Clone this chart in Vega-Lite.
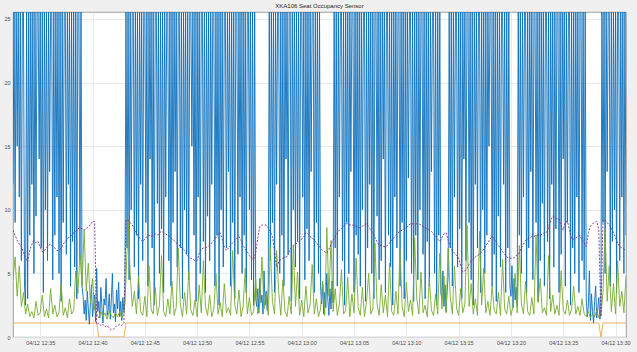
{
"$schema": "https://vega.github.io/schema/vega-lite/v6.json",
"width": 613, "height": 325,
"autosize": {"type": "none"},
"padding": {"left": 13, "top": 12, "right": 11, "bottom": 15},
"background": "#f0f0f0",
"title": {"text": "XKA106 Seat Occupancy Sensor", "font": "Liberation Sans", "fontSize": 6, "fontWeight": "normal", "color": "#262626", "offset": 3, "anchor": "middle"},
"datasets": {
"main": [
{"s":1944,"g":4.5,"p":8.4},{"s":1956,"g":6.3,"p":8.0},{"s":1968,"g":3.2,"p":7.6},{"s":1980,"g":5.6,"p":7.3},{"s":1992,"g":2.4,"p":7.1},
{"s":2004,"g":3.5,"p":6.7},{"s":2016,"g":1.8,"p":6.2},{"s":2028,"g":2.6,"p":5.9},{"s":2040,"g":1.6,"p":6.8},{"s":2052,"g":2.0,"p":7.3},
{"s":2064,"g":1.5,"p":7.6},{"s":2076,"g":2.8,"p":7.4},{"s":2088,"g":1.7,"p":7.5},{"s":2100,"g":1.9,"p":7.1},{"s":2112,"g":3.3,"p":6.7},
{"s":2124,"g":1.6,"p":6.8},{"s":2136,"g":2.2,"p":7.0},{"s":2148,"g":1.5,"p":7.2},{"s":2160,"g":3.8,"p":7.3},{"s":2172,"g":1.8,"p":7.1},
{"s":2184,"g":2.5,"p":7.0},{"s":2196,"g":1.6,"p":6.8},{"s":2208,"g":1.9,"p":6.8},{"s":2220,"g":4.2,"p":7.0},{"s":2232,"g":1.7,"p":7.3},
{"s":2244,"g":2.3,"p":7.5},{"s":2256,"g":1.5,"p":7.7},{"s":2268,"g":3.0,"p":7.9},{"s":2280,"g":1.8,"p":8.0},{"s":2292,"g":2.1,"p":8.2},
{"s":2304,"g":5.2,"p":8.3},{"s":2316,"g":3.4,"p":8.5},{"s":2328,"g":6.5,"p":8.6},{"s":2340,"g":4.0,"p":8.5},{"s":2352,"g":8.4,"p":8.4},
{"s":2364,"g":3.6,"p":8.5},{"s":2376,"g":5.8,"p":8.7},{"s":2388,"g":2.7,"p":8.8},{"s":2400,"g":4.6,"p":9.1},{"s":2412,"g":2.2,"p":9.1},
{"s":2424,"g":1.8,"p":1.0},{"s":2436,"g":1.5,"p":1.1},{"s":2448,"g":2.0,"p":0.9},{"s":2460,"g":1.6,"p":1.0},{"s":2472,"g":1.9,"p":0.8},
{"s":2484,"g":1.4,"p":0.9},{"s":2496,"g":2.1,"p":0.7},{"s":2508,"g":1.7,"p":0.55},{"s":2520,"g":1.5,"p":0.6},{"s":2532,"g":1.9,"p":0.8},
{"s":2544,"g":1.6,"p":0.9},{"s":2556,"g":2.0,"p":1.0},{"s":2568,"g":1.5,"p":0.9},{"s":2580,"g":1.8,"p":1.1},{"s":2592,"g":4.5,"p":9.2},
{"s":2604,"g":9.2,"p":9.2},{"s":2616,"g":5.0,"p":9.0},{"s":2628,"g":2.4,"p":8.8},{"s":2640,"g":3.6,"p":8.5},{"s":2652,"g":1.8,"p":8.2},
{"s":2664,"g":4.8,"p":7.9},{"s":2676,"g":2.0,"p":7.7},{"s":2688,"g":1.7,"p":7.5},{"s":2700,"g":3.2,"p":7.7},{"s":2712,"g":1.6,"p":7.9},
{"s":2724,"g":5.6,"p":8.0},{"s":2736,"g":2.2,"p":7.9},{"s":2748,"g":1.8,"p":8.0},{"s":2760,"g":3.9,"p":8.1},{"s":2772,"g":1.7,"p":8.0},
{"s":2784,"g":2.5,"p":8.2},{"s":2796,"g":6.4,"p":8.3},{"s":2808,"g":2.0,"p":8.2},{"s":2820,"g":1.6,"p":8.1},{"s":2832,"g":3.0,"p":8.0},
{"s":2844,"g":1.8,"p":7.9},{"s":2856,"g":4.4,"p":7.7},{"s":2868,"g":1.7,"p":7.6},{"s":2880,"g":2.3,"p":7.4},{"s":2892,"g":7.0,"p":7.3},
{"s":2904,"g":2.6,"p":7.1},{"s":2916,"g":1.6,"p":7.0},{"s":2928,"g":3.5,"p":6.8},{"s":2940,"g":1.8,"p":6.5},{"s":2952,"g":5.2,"p":6.3},
{"s":2964,"g":2.1,"p":6.2},{"s":2976,"g":1.7,"p":6.1},{"s":2988,"g":2.9,"p":6.0},{"s":3000,"g":1.6,"p":6.0},{"s":3012,"g":4.1,"p":6.6},
{"s":3024,"g":1.9,"p":6.9},{"s":3036,"g":6.0,"p":7.0},{"s":3048,"g":2.4,"p":7.0},{"s":3060,"g":1.7,"p":7.1},{"s":3072,"g":3.3,"p":7.2},
{"s":3084,"g":1.6,"p":7.4},{"s":3096,"g":2.2,"p":7.6},{"s":3108,"g":5.0,"p":7.8},{"s":3120,"g":1.8,"p":8.1},{"s":3132,"g":2.7,"p":8.2},
{"s":3144,"g":1.6,"p":7.7},{"s":3156,"g":4.2,"p":7.1},{"s":3168,"g":1.9,"p":6.8},{"s":3180,"g":2.3,"p":7.0},{"s":3192,"g":1.7,"p":7.2},
{"s":3204,"g":6.8,"p":7.4},{"s":3216,"g":2.5,"p":7.6},{"s":3228,"g":1.8,"p":7.8},{"s":3240,"g":3.7,"p":7.9},{"s":3252,"g":1.6,"p":7.6},
{"s":3264,"g":2.4,"p":7.2},{"s":3276,"g":5.4,"p":6.9},{"s":3288,"g":1.8,"p":6.7},{"s":3300,"g":3.1,"p":6.4},{"s":3312,"g":1.7,"p":6.2},
{"s":3324,"g":2.0,"p":6.1},{"s":3336,"g":4.6,"p":6.6},{"s":3348,"g":1.8,"p":7.8},{"s":3360,"g":2.6,"p":8.7},{"s":3372,"g":6.3,"p":8.8},
{"s":3384,"g":2.2,"p":8.8},{"s":3396,"g":3.4,"p":8.8},{"s":3408,"g":1.7,"p":8.6},{"s":3420,"g":7.1,"p":8.3},{"s":3432,"g":2.8,"p":7.9},
{"s":3444,"g":1.8,"p":6.8},{"s":3456,"g":6.8,"p":5.5},{"s":3468,"g":3.6,"p":5.9},{"s":3480,"g":1.7,"p":6.1},{"s":3492,"g":4.5,"p":6.2},
{"s":3504,"g":2.0,"p":6.3},{"s":3516,"g":1.6,"p":6.3},{"s":3528,"g":3.2,"p":6.7},{"s":3540,"g":1.8,"p":7.0},{"s":3552,"g":7.2,"p":7.2},
{"s":3564,"g":2.4,"p":7.3},{"s":3576,"g":5.1,"p":7.4},{"s":3588,"g":1.7,"p":7.5},{"s":3600,"g":2.9,"p":7.7},{"s":3612,"g":1.6,"p":7.9},
{"s":3624,"g":4.0,"p":8.2},{"s":3636,"g":1.9,"p":8.1},{"s":3648,"g":2.5,"p":7.9},{"s":3660,"g":5.7,"p":7.8},{"s":3672,"g":1.8,"p":7.6},
{"s":3684,"g":3.0,"p":7.4},{"s":3696,"g":1.6,"p":7.2},{"s":3708,"g":2.2,"p":7.0},{"s":3720,"g":4.4,"p":6.8},{"s":3732,"g":1.7,"p":6.7},
{"s":3744,"g":8.6,"p":6.6},{"s":3756,"g":3.2,"p":6.9},{"s":3768,"g":7.6,"p":7.3},{"s":3780,"g":2.0,"p":7.6},{"s":3792,"g":3.8,"p":7.9},
{"s":3804,"g":1.7,"p":8.2},{"s":3816,"g":2.6,"p":8.4},{"s":3828,"g":5.3,"p":8.5},{"s":3840,"g":1.8,"p":8.7},{"s":3852,"g":2.1,"p":8.9},
{"s":3864,"g":4.7,"p":8.9},{"s":3876,"g":1.6,"p":8.8},{"s":3888,"g":3.4,"p":8.8},{"s":3900,"g":1.9,"p":8.8},{"s":3912,"g":6.2,"p":8.7},
{"s":3924,"g":2.3,"p":8.6},{"s":3936,"g":1.7,"p":8.6},{"s":3948,"g":3.9,"p":8.7},{"s":3960,"g":1.6,"p":8.8},{"s":3972,"g":2.8,"p":8.9},
{"s":3984,"g":5.0,"p":8.7},{"s":3996,"g":1.8,"p":8.4},{"s":4008,"g":2.2,"p":8.2},{"s":4020,"g":7.4,"p":7.8},{"s":4032,"g":2.6,"p":7.5},
{"s":4044,"g":1.7,"p":7.2},{"s":4056,"g":4.1,"p":7.2},{"s":4068,"g":1.9,"p":7.1},{"s":4080,"g":3.3,"p":7.1},{"s":4092,"g":1.6,"p":7.2},
{"s":4104,"g":5.8,"p":7.4},{"s":4116,"g":2.0,"p":7.6},{"s":4128,"g":1.7,"p":7.8},{"s":4140,"g":3.6,"p":8.0},{"s":4152,"g":1.8,"p":8.2},
{"s":4164,"g":6.9,"p":8.3},{"s":4176,"g":2.4,"p":8.4},{"s":4188,"g":1.6,"p":8.5},{"s":4200,"g":4.3,"p":8.6},{"s":4212,"g":2.0,"p":8.8},
{"s":4224,"g":2.9,"p":8.9},{"s":4236,"g":1.7,"p":8.9},{"s":4248,"g":7.8,"p":8.9},{"s":4260,"g":3.0,"p":8.9},{"s":4272,"g":1.8,"p":8.9},
{"s":4284,"g":5.1,"p":8.8},{"s":4296,"g":1.9,"p":8.7},{"s":4308,"g":2.5,"p":8.6},{"s":4320,"g":1.6,"p":8.5},{"s":4332,"g":4.6,"p":8.4},
{"s":4344,"g":2.1,"p":8.3},{"s":4356,"g":1.7,"p":8.1},{"s":4368,"g":3.4,"p":7.9},{"s":4380,"g":1.8,"p":7.7},{"s":4392,"g":6.6,"p":7.5},
{"s":4404,"g":2.2,"p":7.8},{"s":4416,"g":4.8,"p":8.1},{"s":4428,"g":1.9,"p":8.2},{"s":4440,"g":7.0,"p":7.6},{"s":4452,"g":3.2,"p":7.1},
{"s":4464,"g":1.8,"p":6.8},{"s":4476,"g":5.6,"p":6.6},{"s":4488,"g":2.3,"p":6.4},{"s":4500,"g":1.7,"p":6.2},{"s":4512,"g":3.8,"p":5.6},
{"s":4524,"g":1.9,"p":5.1},{"s":4536,"g":2.6,"p":5.2},{"s":4548,"g":8.8,"p":5.4},{"s":4560,"g":2.4,"p":5.7},{"s":4572,"g":4.2,"p":6.0},
{"s":4584,"g":1.8,"p":6.1},{"s":4596,"g":3.0,"p":6.3},{"s":4608,"g":1.7,"p":6.4},{"s":4620,"g":8.3,"p":6.5},{"s":4632,"g":2.5,"p":6.7},
{"s":4644,"g":5.4,"p":6.9},{"s":4656,"g":1.9,"p":7.2},{"s":4668,"g":2.8,"p":7.4},{"s":4680,"g":1.7,"p":7.7},{"s":4692,"g":4.0,"p":7.9},
{"s":4704,"g":2.1,"p":7.7},{"s":4716,"g":1.8,"p":7.4},{"s":4728,"g":3.5,"p":7.2},{"s":4740,"g":1.7,"p":7.0},{"s":4752,"g":6.1,"p":6.7},
{"s":4764,"g":2.2,"p":6.5},{"s":4776,"g":1.8,"p":6.3},{"s":4788,"g":3.2,"p":6.2},{"s":4800,"g":1.7,"p":6.2},{"s":4812,"g":2.4,"p":6.2},
{"s":4824,"g":5.0,"p":6.3},{"s":4836,"g":1.9,"p":6.5},{"s":4848,"g":7.2,"p":6.6},{"s":4860,"g":2.6,"p":7.0},{"s":4872,"g":1.8,"p":7.3},
{"s":4884,"g":4.4,"p":7.6},{"s":4896,"g":2.0,"p":7.7},{"s":4908,"g":1.7,"p":7.8},{"s":4920,"g":3.1,"p":7.9},{"s":4932,"g":1.8,"p":7.9},
{"s":4944,"g":8.0,"p":8.0},{"s":4956,"g":2.7,"p":8.0},{"s":4968,"g":4.6,"p":8.0},{"s":4980,"g":1.9,"p":8.1},{"s":4992,"g":2.3,"p":8.2},
{"s":5004,"g":1.7,"p":8.2},{"s":5016,"g":6.4,"p":8.6},{"s":5028,"g":2.0,"p":9.2},{"s":5040,"g":3.3,"p":9.5},{"s":5052,"g":1.8,"p":9.4},
{"s":5064,"g":2.5,"p":9.3},{"s":5076,"g":1.7,"p":9.3},{"s":5088,"g":5.2,"p":8.7},{"s":5100,"g":2.1,"p":8.4},{"s":5112,"g":1.8,"p":9.0},
{"s":5124,"g":2.9,"p":9.1},{"s":5136,"g":1.7,"p":8.4},{"s":5148,"g":2.2,"p":7.7},{"s":5160,"g":4.0,"p":7.7},{"s":5172,"g":1.8,"p":7.8},
{"s":5184,"g":2.4,"p":7.9},{"s":5196,"g":1.7,"p":8.0},{"s":5208,"g":3.0,"p":7.6},{"s":5220,"g":1.8,"p":7.4},{"s":5232,"g":1.6,"p":7.1},
{"s":5244,"g":2.0,"p":8.2},{"s":5256,"g":1.5,"p":8.7},{"s":5268,"g":1.8,"p":8.9},{"s":5280,"g":1.6,"p":9.0},{"s":5292,"g":2.1,"p":9.1},
{"s":5304,"g":1.5,"p":8.4},{"s":5316,"g":1.7,"p":1.6},{"s":5328,"g":3.5,"p":9.2},{"s":5340,"g":8.5,"p":9.2},{"s":5352,"g":2.8,"p":9.0},
{"s":5364,"g":5.6,"p":8.8},{"s":5376,"g":2.0,"p":8.6},{"s":5388,"g":4.2,"p":8.2},{"s":5400,"g":1.8,"p":7.8},{"s":5412,"g":6.0,"p":7.4},
{"s":5424,"g":2.4,"p":7.1},{"s":5436,"g":3.6,"p":7.0},{"s":5448,"g":1.9,"p":6.9},{"s":5460,"g":4.8,"p":6.8}
],
"blue": [
{"s":1944,"b":12},{"s":1950,"b":26},{"s":1956,"b":9},{"s":1962,"b":26},{"s":1968,"b":15},{"s":1974,"b":26},{"s":1980,"b":11},{"s":1986,"b":26},{"s":1992,"b":6},{"s":1998,"b":26},
{"s":2004,"b":26},{"s":2010,"b":4},{"s":2016,"b":2.5},{"s":2022,"b":26},{"s":2028,"b":3},{"s":2034,"b":26},{"s":2040,"b":8},{"s":2046,"b":26},{"s":2052,"b":12},{"s":2058,"b":26},
{"s":2064,"b":5},{"s":2070,"b":26},{"s":2076,"b":9.5},{"s":2082,"b":26},{"s":2088,"b":26},{"s":2094,"b":14},{"s":2100,"b":26},{"s":2106,"b":7},{"s":2112,"b":26},{"s":2118,"b":3.5},
{"s":2124,"b":26},{"s":2130,"b":10},{"s":2136,"b":26},{"s":2142,"b":6},{"s":2148,"b":26},{"s":2154,"b":13},{"s":2160,"b":26},{"s":2166,"b":26},{"s":2172,"b":4.5},{"s":2178,"b":26},
{"s":2184,"b":8},{"s":2190,"b":26},{"s":2196,"b":11},{"s":2202,"b":26},{"s":2208,"b":5},{"s":2214,"b":26},{"s":2220,"b":2.8},{"s":2226,"b":26},{"s":2232,"b":9},{"s":2238,"b":26},
{"s":2244,"b":26},{"s":2250,"b":6.5},{"s":2256,"b":26},{"s":2262,"b":12},{"s":2268,"b":26},{"s":2274,"b":4},{"s":2280,"b":26},{"s":2286,"b":7.5},{"s":2292,"b":26},{"s":2298,"b":5.5},
{"s":2304,"b":26},{"s":2310,"b":3},{"s":2316,"b":26},{"s":2322,"b":26},{"s":2328,"b":6},{"s":2334,"b":26},{"s":2340,"b":4},{"s":2346,"b":3.2},{"s":2352,"b":1.8},{"s":2358,"b":2.9},
{"s":2364,"b":1.3},{"s":2370,"b":3.6},{"s":2376,"b":2.2},{"s":2382,"b":1.0},{"s":2388,"b":2.7},{"s":2394,"b":4.1},{"s":2400,"b":1.6},{"s":2406,"b":2.4},{"s":2412,"b":3.3},{"s":2418,"b":1.2},
{"s":2424,"b":5.4},{"s":2430,"b":2.0},{"s":2436,"b":2.8},{"s":2442,"b":1.5},{"s":2448,"b":3.9},{"s":2454,"b":2.3},{"s":2460,"b":1.1},{"s":2466,"b":3.0},{"s":2472,"b":2.5},{"s":2478,"b":4.6},
{"s":2484,"b":1.7},{"s":2490,"b":2.1},{"s":2496,"b":3.4},{"s":2502,"b":1.4},{"s":2508,"b":2.9},{"s":2514,"b":5.0},{"s":2520,"b":1.9},{"s":2526,"b":2.6},{"s":2532,"b":1.2},{"s":2538,"b":3.7},
{"s":2544,"b":2.2},{"s":2550,"b":4.3},{"s":2556,"b":1.6},{"s":2562,"b":2.8},{"s":2568,"b":1.3},{"s":2574,"b":3.1},{"s":2580,"b":2.0},{"s":2586,"b":2.7},
{"s":2592,"b":26},{"s":2598,"b":7},{"s":2604,"b":26},{"s":2610,"b":4.5},{"s":2616,"b":26},{"s":2622,"b":10},{"s":2628,"b":26},{"s":2634,"b":26},{"s":2640,"b":5.5},{"s":2646,"b":26},
{"s":2652,"b":8},{"s":2658,"b":26},{"s":2664,"b":3},{"s":2670,"b":26},{"s":2676,"b":12},{"s":2682,"b":26},{"s":2688,"b":6},{"s":2694,"b":26},{"s":2700,"b":26},{"s":2706,"b":9},
{"s":2712,"b":26},{"s":2718,"b":4},{"s":2724,"b":26},{"s":2730,"b":14},{"s":2736,"b":26},{"s":2742,"b":7},{"s":2748,"b":26},{"s":2754,"b":2.5},{"s":2760,"b":26},{"s":2766,"b":26},
{"s":2772,"b":10.5},{"s":2778,"b":26},{"s":2784,"b":5},{"s":2790,"b":26},{"s":2796,"b":8.5},{"s":2802,"b":26},{"s":2808,"b":3.5},{"s":2814,"b":26},{"s":2820,"b":11},{"s":2826,"b":26},
{"s":2832,"b":26},{"s":2838,"b":6},{"s":2844,"b":26},{"s":2850,"b":4},{"s":2856,"b":26},{"s":2862,"b":9},{"s":2868,"b":26},{"s":2874,"b":13},{"s":2880,"b":26},{"s":2886,"b":5.5},
{"s":2892,"b":26},{"s":2898,"b":26},{"s":2904,"b":7},{"s":2910,"b":26},{"s":2916,"b":3},{"s":2922,"b":26},{"s":2928,"b":10},{"s":2934,"b":26},{"s":2940,"b":6.5},{"s":2946,"b":26},
{"s":2952,"b":4.5},{"s":2958,"b":26},{"s":2964,"b":26},{"s":2970,"b":15},{"s":2976,"b":26},{"s":2982,"b":8},{"s":2988,"b":26},{"s":2994,"b":2.8},{"s":3000,"b":26},{"s":3006,"b":11},
{"s":3012,"b":26},{"s":3018,"b":5},{"s":3024,"b":26},{"s":3030,"b":26},{"s":3036,"b":7.5},{"s":3042,"b":26},{"s":3048,"b":3.5},{"s":3054,"b":26},{"s":3060,"b":9.5},{"s":3066,"b":26},
{"s":3072,"b":6},{"s":3078,"b":26},{"s":3084,"b":12},{"s":3090,"b":26},{"s":3096,"b":26},{"s":3102,"b":4},{"s":3108,"b":26},{"s":3114,"b":8},{"s":3120,"b":26},{"s":3126,"b":2.5},
{"s":3132,"b":26},{"s":3138,"b":10},{"s":3144,"b":26},{"s":3150,"b":5.5},{"s":3156,"b":26},{"s":3162,"b":26},{"s":3168,"b":7},{"s":3174,"b":26},{"s":3180,"b":13},{"s":3186,"b":26},
{"s":3192,"b":4},{"s":3198,"b":26},{"s":3204,"b":9},{"s":3210,"b":26},{"s":3216,"b":3},{"s":3222,"b":26},{"s":3228,"b":26},{"s":3234,"b":6.5},{"s":3240,"b":26},{"s":3246,"b":11},
{"s":3252,"b":26},{"s":3258,"b":5},{"s":3264,"b":26},{"s":3270,"b":8},{"s":3276,"b":26},{"s":3282,"b":3.5},{"s":3288,"b":26},{"s":3294,"b":26},{"s":3300,"b":10},{"s":3306,"b":26},
{"s":3312,"b":4.5},{"s":3318,"b":26},{"s":3324,"b":2.5},{"s":3330,"b":26},{"s":3336,"b":3},
{"s":3342,"b":2.4},{"s":3348,"b":3.8},{"s":3354,"b":1.9},{"s":3360,"b":4.6},{"s":3366,"b":2.7},{"s":3372,"b":3.3},{"s":3378,"b":1.8},{"s":3384,"b":5.2},{"s":3390,"b":2.5},{"s":3396,"b":3.6},{"s":3402,"b":2.1},{"s":3408,"b":4.0},
{"s":3414,"b":26},{"s":3420,"b":6},{"s":3426,"b":26},{"s":3432,"b":9},{"s":3438,"b":26},{"s":3444,"b":3.5},{"s":3450,"b":26},{"s":3456,"b":12},{"s":3462,"b":26},{"s":3468,"b":26},
{"s":3474,"b":5},{"s":3480,"b":26},{"s":3486,"b":8},{"s":3492,"b":26},{"s":3498,"b":4},{"s":3504,"b":26},{"s":3510,"b":14},{"s":3516,"b":26},{"s":3522,"b":6.5},{"s":3528,"b":26},
{"s":3534,"b":26},{"s":3540,"b":2.8},{"s":3546,"b":26},{"s":3552,"b":10},{"s":3558,"b":26},{"s":3564,"b":5.5},{"s":3570,"b":26},{"s":3576,"b":7.5},{"s":3582,"b":26},{"s":3588,"b":3},
{"s":3594,"b":26},{"s":3600,"b":26},{"s":3606,"b":11},{"s":3612,"b":26},{"s":3618,"b":4.5},{"s":3624,"b":26},{"s":3630,"b":8.5},{"s":3636,"b":26},{"s":3642,"b":6},{"s":3648,"b":26},
{"s":3654,"b":13},{"s":3660,"b":26},{"s":3666,"b":26},{"s":3672,"b":3.5},{"s":3678,"b":26},{"s":3684,"b":9},{"s":3690,"b":26},{"s":3696,"b":5},{"s":3702,"b":26},{"s":3708,"b":4},
{"s":3714,"b":2.6},{"s":3720,"b":4.2},{"s":3726,"b":1.8},{"s":3732,"b":3.5},{"s":3738,"b":2.3},{"s":3744,"b":5.0},{"s":3750,"b":2.9},{"s":3756,"b":1.7},{"s":3762,"b":3.8},{"s":3768,"b":2.2},{"s":3774,"b":4.4},{"s":3780,"b":2.7},
{"s":3786,"b":26},{"s":3792,"b":7},{"s":3798,"b":26},{"s":3804,"b":4},{"s":3810,"b":26},{"s":3816,"b":11},{"s":3822,"b":26},{"s":3828,"b":26},{"s":3834,"b":6},{"s":3840,"b":26},
{"s":3846,"b":2.5},{"s":3852,"b":26},{"s":3858,"b":9},{"s":3864,"b":26},{"s":3870,"b":5},{"s":3876,"b":26},{"s":3882,"b":13},{"s":3888,"b":26},{"s":3894,"b":26},{"s":3900,"b":3.5},
{"s":3906,"b":26},{"s":3912,"b":8},{"s":3918,"b":26},{"s":3924,"b":6.5},{"s":3930,"b":26},{"s":3936,"b":4},{"s":3942,"b":26},{"s":3948,"b":10},{"s":3954,"b":26},{"s":3960,"b":26},
{"s":3966,"b":2.8},{"s":3972,"b":26},{"s":3978,"b":7},{"s":3984,"b":26},{"s":3990,"b":12},{"s":3996,"b":26},{"s":4002,"b":5},{"s":4008,"b":26},{"s":4014,"b":3},{"s":4020,"b":26},
{"s":4026,"b":26},{"s":4032,"b":9.5},{"s":4038,"b":26},{"s":4044,"b":4.5},{"s":4050,"b":26},{"s":4056,"b":6},{"s":4062,"b":26},{"s":4068,"b":14},{"s":4074,"b":26},{"s":4080,"b":3.5},
{"s":4086,"b":26},{"s":4092,"b":26},{"s":4098,"b":8},{"s":4104,"b":26},{"s":4110,"b":5.5},{"s":4116,"b":26},{"s":4122,"b":2.5},{"s":4128,"b":26},{"s":4134,"b":11},{"s":4140,"b":26},
{"s":4146,"b":7},{"s":4152,"b":26},{"s":4158,"b":26},{"s":4164,"b":4},{"s":4170,"b":26},{"s":4176,"b":9},{"s":4182,"b":26},{"s":4188,"b":3},{"s":4194,"b":26},{"s":4200,"b":6},
{"s":4206,"b":26},{"s":4212,"b":12.5},{"s":4218,"b":26},{"s":4224,"b":26},{"s":4230,"b":5},{"s":4236,"b":26},{"s":4242,"b":2.8},{"s":4248,"b":26},{"s":4254,"b":8},{"s":4260,"b":26},
{"s":4266,"b":4.5},{"s":4272,"b":26},{"s":4278,"b":10},{"s":4284,"b":26},{"s":4290,"b":26},{"s":4296,"b":6.5},{"s":4302,"b":26},{"s":4308,"b":3},{"s":4314,"b":26},{"s":4320,"b":7.5},
{"s":4326,"b":26},{"s":4332,"b":4},{"s":4338,"b":26},{"s":4344,"b":13},{"s":4350,"b":26},{"s":4356,"b":26},{"s":4362,"b":5},{"s":4368,"b":26},{"s":4374,"b":2.5},{"s":4380,"b":26},
{"s":4386,"b":8},{"s":4392,"b":26},{"s":4398,"b":3.5},
{"s":4404,"b":3.0},{"s":4410,"b":5.2},{"s":4416,"b":2.4},{"s":4422,"b":4.1},{"s":4428,"b":2.0},{"s":4434,"b":3.6},{"s":4440,"b":4.8},
{"s":4446,"b":26},{"s":4452,"b":7},{"s":4458,"b":26},{"s":4464,"b":4},{"s":4470,"b":26},{"s":4476,"b":11},{"s":4482,"b":26},{"s":4488,"b":26},{"s":4494,"b":5.5},{"s":4500,"b":26},
{"s":4506,"b":8.5},{"s":4512,"b":26},{"s":4518,"b":3},{"s":4524,"b":26},{"s":4530,"b":14},{"s":4536,"b":26},{"s":4542,"b":6},{"s":4548,"b":26},{"s":4554,"b":26},{"s":4560,"b":9},
{"s":4566,"b":26},{"s":4572,"b":4.5},{"s":4578,"b":26},{"s":4584,"b":2.5},{"s":4590,"b":26},{"s":4596,"b":12},{"s":4602,"b":26},{"s":4608,"b":7},{"s":4614,"b":26},{"s":4620,"b":26},
{"s":4626,"b":3.5},{"s":4632,"b":26},{"s":4638,"b":10},{"s":4644,"b":26},{"s":4650,"b":5},{"s":4656,"b":26},{"s":4662,"b":8},{"s":4668,"b":26},{"s":4674,"b":15},{"s":4680,"b":26},
{"s":4686,"b":26},{"s":4692,"b":4},{"s":4698,"b":26},{"s":4704,"b":6.5},{"s":4710,"b":26},{"s":4716,"b":2.8},{"s":4722,"b":26},{"s":4728,"b":9.5},{"s":4734,"b":26},{"s":4740,"b":5.5},
{"s":4746,"b":26},{"s":4752,"b":26},{"s":4758,"b":12},{"s":4764,"b":26},{"s":4770,"b":3.5},{"s":4776,"b":26},{"s":4782,"b":7},{"s":4788,"b":26},{"s":4794,"b":4},
{"s":4800,"b":3.2},{"s":4806,"b":5.6},{"s":4812,"b":2.3},{"s":4818,"b":4.6},{"s":4824,"b":2.9},{"s":4830,"b":3.9},{"s":4836,"b":2.5},
{"s":4842,"b":26},{"s":4848,"b":8},{"s":4854,"b":26},{"s":4860,"b":5},{"s":4866,"b":26},{"s":4872,"b":11},{"s":4878,"b":26},{"s":4884,"b":26},{"s":4890,"b":3.5},{"s":4896,"b":26},
{"s":4902,"b":7},{"s":4908,"b":26},{"s":4914,"b":13},{"s":4920,"b":26},{"s":4926,"b":4.5},{"s":4932,"b":26},{"s":4938,"b":26},{"s":4944,"b":9},{"s":4950,"b":26},{"s":4956,"b":2.8},
{"s":4962,"b":26},{"s":4968,"b":6},{"s":4974,"b":26},{"s":4980,"b":10.5},{"s":4986,"b":26},{"s":4992,"b":4},{"s":4998,"b":26},{"s":5004,"b":26},{"s":5010,"b":7.5},{"s":5016,"b":26},
{"s":5022,"b":3},{"s":5028,"b":26},{"s":5034,"b":12},{"s":5040,"b":26},{"s":5046,"b":5.5},{"s":5052,"b":26},{"s":5058,"b":8.5},{"s":5064,"b":26},{"s":5070,"b":26},{"s":5076,"b":3.5},
{"s":5082,"b":26},{"s":5088,"b":6.5},{"s":5094,"b":26},{"s":5100,"b":14},{"s":5106,"b":26},{"s":5112,"b":4},{"s":5118,"b":26},{"s":5124,"b":9},{"s":5130,"b":26},{"s":5136,"b":26},
{"s":5142,"b":2.5},{"s":5148,"b":26},{"s":5154,"b":7},{"s":5160,"b":26},{"s":5166,"b":5},{"s":5172,"b":26},{"s":5178,"b":11},{"s":5184,"b":26},{"s":5190,"b":3.5},{"s":5196,"b":26},
{"s":5202,"b":26},{"s":5208,"b":6},{"s":5214,"b":26},{"s":5220,"b":4.5},{"s":5226,"b":26},
{"s":5232,"b":3.0},{"s":5238,"b":1.6},{"s":5244,"b":2.5},{"s":5250,"b":5.2},{"s":5256,"b":1.3},{"s":5262,"b":3.4},{"s":5268,"b":2.0},{"s":5274,"b":1.1},{"s":5280,"b":2.8},{"s":5286,"b":4.0},{"s":5292,"b":1.5},{"s":5298,"b":2.2},{"s":5304,"b":3.1},{"s":5310,"b":1.4},{"s":5316,"b":2.0},
{"s":5322,"b":26},{"s":5328,"b":9},{"s":5334,"b":26},{"s":5340,"b":5},{"s":5346,"b":26},{"s":5352,"b":13},{"s":5358,"b":26},{"s":5364,"b":26},{"s":5370,"b":4},{"s":5376,"b":26},
{"s":5382,"b":7.5},{"s":5388,"b":26},{"s":5394,"b":10},{"s":5400,"b":26},{"s":5406,"b":3.5},{"s":5412,"b":26},{"s":5418,"b":26},{"s":5424,"b":6},{"s":5430,"b":26},{"s":5436,"b":11},
{"s":5442,"b":26},{"s":5448,"b":5},{"s":5454,"b":26},{"s":5460,"b":8}
],
"orange": [
{"s":1944,"o":1.1},{"s":2424,"o":1.1},{"s":2436,"o":0},{"s":2580,"o":0},{"s":2592,"o":1.1},{"s":5304,"o":1.1},{"s":5316,"o":0},{"s":5328,"o":1.1},{"s":5460,"o":1.1}
]
},
"encoding": {
  "x": {"field": "s", "type": "quantitative", "scale": {"domain": [1944, 5460], "nice": false, "zero": false},
        "axis": {"title": null, "values": [2100, 2400, 2700, 3000, 3300, 3600, 3900, 4200, 4500, 4800, 5100, 5400],
                 "labelExpr": "'04/12 ' + timeFormat(datetime(2021, 3, 12, 12, 0, datum.value), '%H:%M')",
                 "ticks": false, "domain": false, "labelPadding": 3, "labelFlush": false, "labelOverlap": false, "grid": true}}
},
"layer": [
  {"data": {"name": "orange"},
   "mark": {"type": "line", "color": "#EDA84A", "strokeWidth": 0.9, "clip": true},
   "encoding": {"y": {"field": "o", "type": "quantitative", "scale": {"domain": [0, 25.55], "nice": false}, "axis": {"title": null, "values": [0,5,10,15,20,25], "ticks": false, "domain": false, "labelPadding": 3, "grid": true}}}},
  {"data": {"name": "blue"},
   "mark": {"type": "line", "color": "#0A6EBB", "strokeWidth": 0.9, "opacity": 1, "clip": true},
   "encoding": {"y": {"field": "b", "type": "quantitative", "scale": {"domain": [0, 25.55], "nice": false}, "axis": {"title": null, "values": [0,5,10,15,20,25], "ticks": false, "domain": false, "labelPadding": 3, "grid": true}}}},
  {"data": {"name": "main"},
   "mark": {"type": "line", "color": "#77AC30", "strokeWidth": 0.9, "clip": true},
   "encoding": {"y": {"field": "g", "type": "quantitative", "scale": {"domain": [0, 25.55], "nice": false}, "axis": {"title": null, "values": [0,5,10,15,20,25], "ticks": false, "domain": false, "labelPadding": 3, "grid": true}}}},
  {"data": {"name": "main"},
   "mark": {"type": "line", "color": "#7E2F8E", "strokeWidth": 0.9, "strokeDash": [2, 1.5], "clip": true},
   "encoding": {"y": {"field": "p", "type": "quantitative", "scale": {"domain": [0, 25.55], "nice": false}, "axis": {"title": null, "values": [0,5,10,15,20,25], "ticks": false, "domain": false, "labelPadding": 3, "grid": true}}}}
],
"config": {
  "axis": {"labelFont": "Liberation Sans", "labelFontSize": 5.5, "labelColor": "#4d4d4d", "gridColor": "#e4e4e4", "gridWidth": 0.8},
  "view": {"fill": "white", "stroke": "#8c8c8c", "strokeWidth": 0.8}
}
}
